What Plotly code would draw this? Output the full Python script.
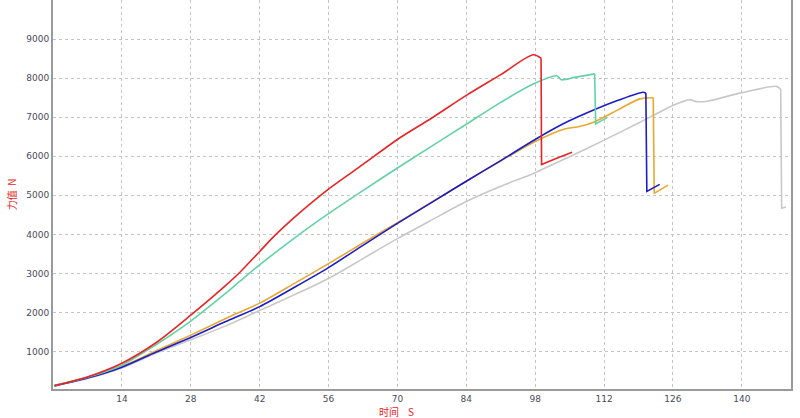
import plotly.graph_objects as go

# force (N) vs time (s) for five specimens; *_drop = index where the break starts
red_t = [0.3, 7, 14, 21, 28, 35, 38, 42, 45, 49, 56, 63, 70, 77, 84, 91, 97.6, 99.2, 99.3, 102, 105.5]
red_f = [130, 350, 700, 1230, 1930, 2680, 3030, 3560, 3960, 4430, 5160, 5790, 6430, 6980, 7560, 8090, 8600, 8510, 5790, 5930, 6100]
red_drop = 17

teal_t = [0.3, 7, 14, 21, 28, 35, 38, 42, 49, 56, 63, 70, 77, 84, 91, 97.6, 102.4, 103.3, 106, 110.1, 110.3, 112.6]
teal_f = [130, 340, 650, 1180, 1780, 2480, 2800, 3220, 3900, 4530, 5120, 5700, 6260, 6820, 7380, 7850, 8060, 7960, 8020, 8110, 6830, 6990]
teal_drop = 19

blue_t = [0.3, 7, 14, 21, 28, 35, 42, 49, 56, 63, 70, 77, 84, 91, 98, 104, 110, 115, 119.9, 120.5, 120.7, 123.3]
blue_f = [120, 320, 600, 990, 1360, 1760, 2150, 2640, 3150, 3720, 4280, 4820, 5360, 5890, 6430, 6850, 7190, 7440, 7640, 7620, 5100, 5280]
blue_drop = 19

gold_t = [0.3, 7, 14, 21, 28, 35, 42, 49, 56, 63, 70, 77, 84, 91, 98, 104, 107, 110, 115, 119.3, 122, 122.2, 125]
gold_f = [130, 340, 620, 1020, 1420, 1840, 2240, 2740, 3250, 3780, 4300, 4830, 5360, 5880, 6380, 6700, 6760, 6880, 7200, 7470, 7500, 5050, 5260]
gold_drop = 20

gray_t = [0.3, 7, 14, 21, 28, 35, 42, 49, 56, 63, 70, 77, 84, 91, 98, 105, 111.8, 119, 126, 129.4, 130.8, 133, 140, 147, 147.9, 148.1, 149]
gray_f = [120, 310, 580, 960, 1300, 1650, 2050, 2450, 2870, 3380, 3890, 4370, 4840, 5230, 5580, 5990, 6400, 6850, 7300, 7450, 7400, 7410, 7630, 7790, 7720, 4670, 4700]
gray_drop = 24

x_ticks = [14, 28, 42, 56, 70, 84, 98, 112, 126, 140]
y_ticks = [1000, 2000, 3000, 4000, 5000, 6000, 7000, 8000, 9000, 10000]

series = [
    (gray_t, gray_f, gray_drop, "#c8c8c8"),
    (gold_t, gold_f, gold_drop, "#e8a830"),
    (blue_t, blue_f, blue_drop, "#1c1cc8"),
    (teal_t, teal_f, teal_drop, "#62d2a6"),
    (red_t, red_f, red_drop, "#e82424"),
]

fig = go.Figure()
for t, f, d, c in series:
    # smooth loading part
    fig.add_trace(go.Scatter(x=t[:d + 1], y=f[:d + 1], mode="lines",
                             line=dict(color=c, width=1.6, shape="spline", smoothing=0.8),
                             showlegend=False))
    # sharp break after the peak
    fig.add_trace(go.Scatter(x=t[d:], y=f[d:], mode="lines",
                             line=dict(color=c, width=1.6),
                             showlegend=False))

axis_common = dict(
    showgrid=True,
    gridcolor="#c4c4c4",
    griddash="dot",
    gridwidth=1,
    showline=True,
    linecolor="#9a9a9a",
    linewidth=2,
    mirror=True,
    zeroline=False,
    automargin=False,
    tickfont=dict(family="DejaVu Sans", size=9, color="#4a4a5a"),
)

fig.update_xaxes(range=[0, 150], tickvals=x_ticks, **axis_common)
fig.update_yaxes(range=[40, 10002], tickvals=y_ticks, **axis_common)

fig.add_annotation(text="时间\u00a0\u00a0\u00a0\u00a0S", xref="paper", yref="paper",
                   x=0.466, y=-0.058, xanchor="center", yanchor="middle", showarrow=False,
                   font=dict(family="Noto Sans CJK SC", size=10, color="#e82424"))
fig.add_annotation(text="力值\u00a0\u00a0N", xref="paper", yref="paper",
                   x=-0.056, y=0.5, xanchor="center", yanchor="middle",
                   textangle=-90, showarrow=False,
                   font=dict(family="Noto Sans CJK SC", size=10, color="#e82424"))

fig.update_layout(
    width=800,
    height=418,
    margin=dict(l=53, r=9, t=0, b=29),
    plot_bgcolor="white",
    paper_bgcolor="white",
)

# page has a default 8px body margin; remove it so the figure sits at 0,0
fig.write_html("out.html", config={"displayModeBar": False},
               post_script="document.body.style.margin='0';")
